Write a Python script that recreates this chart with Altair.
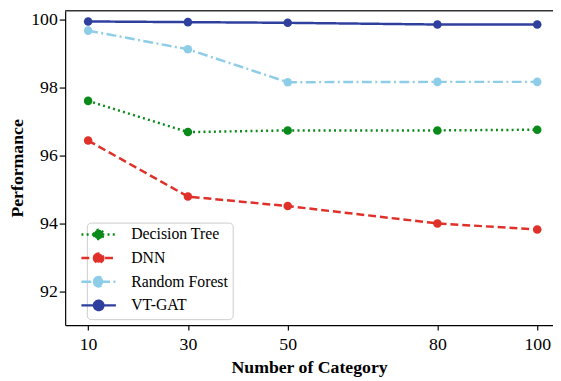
import altair as alt
import pandas as pd

categories = [10, 30, 50, 80, 100]
models = ["Decision Tree", "DNN", "Random Forest", "VT-GAT"]
decision_tree = [97.61, 96.69, 96.74, 96.74, 96.76]
dnn = [96.44, 94.79, 94.51, 94.00, 93.82]
random_forest = [99.68, 99.13, 98.16, 98.17, 98.17]
vt_gat = [99.95, 99.93, 99.91, 99.86, 99.86]
y_ticks = [92, 94, 96, 98, 100]

colors = ["#0A8A1A", "#E0302A", "#8ECDE8", "#2E3F9E"]
dashes = [[2, 3.3], [8, 4], [10, 3.5, 2, 3.5], [1, 0]]

series = {"Decision Tree": decision_tree, "DNN": dnn,
          "Random Forest": random_forest, "VT-GAT": vt_gat}
rows = []
for m in models:
    for c, v in zip(categories, series[m]):
        rows.append({"category": c, "value": v, "model": m})
df = pd.DataFrame(rows)

FONT = "Liberation Serif"
W, H = 495, 319

sym_path = ("M-3.5,0L3.5,0M-0.95,0A0.95,0.95,0,1,1,0.95,0"
            "A0.95,0.95,0,1,1,-0.95,0Z")

legend = alt.Legend(title=None, orient="none", legendX=22, legendY=215,
                    symbolType=sym_path, symbolSize=100, symbolStrokeWidth=2.5,
                    labelFont=FONT, labelFontSize=16, labelColor="black",
                    labelOffset=25, fillColor="white", strokeColor="#cccccc",
                    cornerRadius=4, padding=4, rowPadding=4)

x = alt.X("category:Q",
          scale=alt.Scale(domain=[5.4, 103.16], nice=False, zero=False),
          axis=alt.Axis(values=categories, title="Number of Category", grid=False,
                        titlePadding=5, tickSize=5, labelPadding=6))
y = alt.Y("value:Q",
          scale=alt.Scale(domain=[91.004, 100.267], nice=False, zero=False),
          axis=alt.Axis(values=y_ticks, title="Performance", grid=False,
                        titlePadding=4, tickSize=6, labelPadding=2))
color = alt.Color("model:N", scale=alt.Scale(domain=models, range=colors), legend=legend)
dash = alt.StrokeDash("model:N", scale=alt.Scale(domain=models, range=dashes), legend=legend)

base = alt.Chart(df)
lines = base.mark_line(strokeWidth=2.5).encode(x=x, y=y, color=color, strokeDash=dash)
points = base.mark_point(filled=True, size=75, opacity=1).encode(x=x, y=y, color=color)

frame_top = alt.Chart(pd.DataFrame({"f": [0]})).mark_rule(
    color="#333333", strokeWidth=1.5).encode(
    x=alt.value(0), x2=alt.value(W), y=alt.value(0))

chart = alt.layer(lines, points, frame_top).properties(
    width=W, height=H,
    autosize=alt.AutoSizeParams(type="none"),
    padding={"left": 58, "top": 0, "right": 0, "bottom": 54},
).configure(font=FONT).configure_view(stroke=None).configure_axis(
    labelFont=FONT, labelFontSize=18, labelColor="black",
    titleFont=FONT, titleFontSize=18, titleFontWeight="bold", titleColor="black",
    domainColor="black", tickColor="black", domainWidth=1.2, tickWidth=1.2,
)

chart.save("out.html", embed_options={"renderer": "svg", "actions": False})
